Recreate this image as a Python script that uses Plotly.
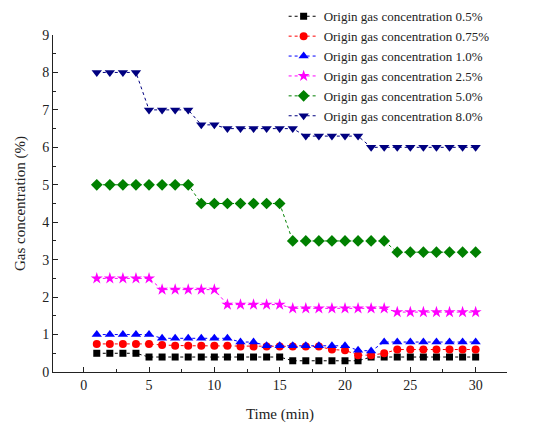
import plotly.graph_objects as go

time_min = list(range(1, 31))
c05 = [0.5, 0.5, 0.5, 0.5, 0.4, 0.4, 0.4, 0.4, 0.4, 0.4,
       0.4, 0.4, 0.4, 0.4, 0.4, 0.3, 0.3, 0.3, 0.3, 0.3,
       0.3, 0.4, 0.4, 0.4, 0.4, 0.4, 0.4, 0.4, 0.4, 0.4]
c075 = [0.75, 0.75, 0.75, 0.75, 0.75, 0.72, 0.7, 0.7, 0.7, 0.7,
        0.7, 0.68, 0.68, 0.68, 0.68, 0.68, 0.68, 0.68, 0.6, 0.58,
        0.45, 0.45, 0.5, 0.6, 0.6, 0.6, 0.6, 0.6, 0.6, 0.6]
c10 = [1.0, 1.0, 1.0, 1.0, 1.0, 0.9, 0.9, 0.9, 0.9, 0.9,
       0.9, 0.8, 0.8, 0.7, 0.7, 0.7, 0.7, 0.7, 0.7, 0.7,
       0.58, 0.56, 0.8, 0.8, 0.8, 0.8, 0.8, 0.8, 0.8, 0.8]
c25 = [2.5, 2.5, 2.5, 2.5, 2.5, 2.2, 2.2, 2.2, 2.2, 2.2,
       1.8, 1.8, 1.8, 1.8, 1.8, 1.7, 1.7, 1.7, 1.7, 1.7,
       1.7, 1.7, 1.7, 1.6, 1.6, 1.6, 1.6, 1.6, 1.6, 1.6]
c50 = [5.0, 5.0, 5.0, 5.0, 5.0, 5.0, 5.0, 5.0, 4.5, 4.5,
       4.5, 4.5, 4.5, 4.5, 4.5, 3.5, 3.5, 3.5, 3.5, 3.5,
       3.5, 3.5, 3.5, 3.2, 3.2, 3.2, 3.2, 3.2, 3.2, 3.2]
c80 = [8.0, 8.0, 8.0, 8.0, 7.0, 7.0, 7.0, 7.0, 6.6, 6.6,
       6.5, 6.5, 6.5, 6.5, 6.5, 6.5, 6.3, 6.3, 6.3, 6.3,
       6.3, 6.0, 6.0, 6.0, 6.0, 6.0, 6.0, 6.0, 6.0, 6.0]

names = ["Origin gas concentration 0.5%", "Origin gas concentration 0.75%",
         "Origin gas concentration 1.0%", "Origin gas concentration 2.5%",
         "Origin gas concentration 5.0%", "Origin gas concentration 8.0%"]
series = [c05, c075, c10, c25, c50, c80]
colors = ["#000000", "#FF0000", "#0000FF", "#FF00FF", "#008000", "#000080"]
symbols = ["square", "circle", "triangle-up", "star", "diamond", "triangle-down"]
sizes = [7, 8, 9, 9, 9, 9]

fig = go.Figure()
for nm, ys, col, sym, sz in zip(names, series, colors, symbols, sizes):
    fig.add_trace(go.Scatter(
        x=time_min, y=ys, name=nm, mode="lines+markers",
        line=dict(color=col, width=1, dash="dot"),
        marker=dict(symbol=sym, size=sz, color=col),
    ))

font = "Liberation Serif, Times New Roman, serif"
fig.update_layout(
    width=533, height=428,
    margin=dict(l=53, r=26, t=35, b=56, autoexpand=False),
    paper_bgcolor="white", plot_bgcolor="white",
    font=dict(family=font, size=14, color="#222"),
    showlegend=True,
    legend=dict(x=0.508, y=1.1, xanchor="left", yanchor="top",
                bgcolor="rgba(0,0,0,0)", font=dict(size=13, family=font),
                itemwidth=30, tracegroupgap=0),
    xaxis=dict(range=[-2.35, 32.4], tickmode="linear", tick0=0, dtick=5,
               ticks="inside", ticklen=5, tickcolor="#222", showline=True,
               linecolor="#222", linewidth=1, showgrid=False, zeroline=False,
               automargin=False,
               minor=dict(dtick=2.5, ticks="inside", ticklen=3, tickcolor="#222"),
               title=dict(text="Time (min)", font=dict(size=15), standoff=16)),
    yaxis=dict(range=[0, 9], tickmode="linear", tick0=0, dtick=1,
               ticks="inside", ticklen=5, tickcolor="#222", showline=True,
               linecolor="#222", linewidth=1, showgrid=False, zeroline=False,
               automargin=False,
               minor=dict(dtick=0.5, ticks="inside", ticklen=3, tickcolor="#222"),
               title=dict(text="Gas concentration (%)", font=dict(size=15), standoff=12)),
)

fig.write_html("out.html", config={"displayModeBar": False},
               post_script="document.body.style.margin='0';document.body.style.padding='0';")
